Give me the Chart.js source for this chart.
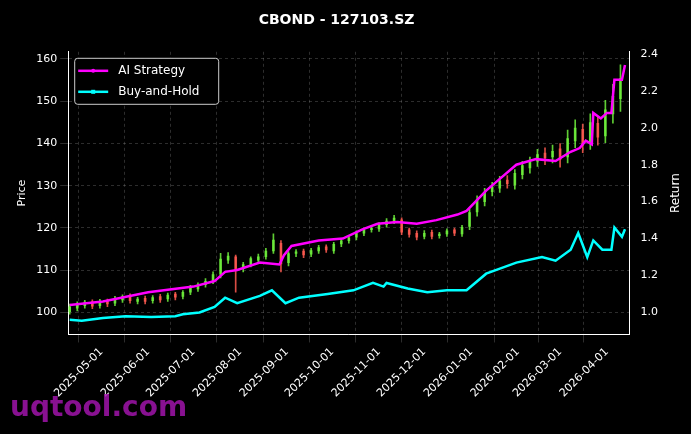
<!DOCTYPE html>
<html>
<head>
<meta charset="utf-8">
<script src="https://cdn.jsdelivr.net/npm/chart.js@4/dist/chart.umd.min.js"></script>
<style>
  body { margin: 0; background: #000; }
  #wrap { position: relative; width: 691px; height: 434px; }
  #mark { position: absolute; left: 10px; top: 390px; font: bold 28px "DejaVu Sans"; color: rgba(160, 20, 170, 0.85); pointer-events: none; }
</style>
</head>
<body>
<div id="wrap">
  <canvas id="myChart" width="691" height="434"></canvas>
  <div id="mark">uqtool.com</div>
</div>
<script>
// day offsets from 2025-04-10
const startDate = new Date(Date.UTC(2025, 3, 10));
const candleDays = [];
for (let d = 0; d <= 365; d += 5) candleDays.push(d);

const opens = [100.2,101.0,101.6,102.4,101.6,102.6,102.2,103.0,103.8,102.6,103.2,102.8,103.6,103.2,104.2,103.8,104.8,105.6,106.6,107.4,109.0,112.4,113.0,110.4,111.4,112.4,113.2,114.6,116.2,111.8,114.0,114.4,113.8,114.6,115.4,114.6,116.2,117.0,117.8,118.8,119.6,119.8,120.8,121.6,121.8,119.4,118.6,118.0,118.8,118.2,118.6,119.4,118.6,120.4,123.8,126.2,128.6,129.4,131.2,130.2,132.6,134.2,135.8,137.6,136.8,138.6,136.8,140.6,143.2,140.2,144.6,141.8,147.0,150.6];
const closes = [101.2,101.8,102.3,101.5,102.4,102.0,103.1,103.6,102.8,103.0,102.6,103.4,103.0,104.0,103.6,104.6,105.8,106.4,107.2,108.8,112.5,113.2,110.0,111.2,112.6,113.0,114.4,117.0,111.5,113.8,114.2,113.6,114.5,115.2,114.8,116.0,116.8,117.5,118.6,119.4,119.8,120.6,121.5,122.2,119.0,118.5,117.8,118.6,118.0,118.4,119.2,118.8,120.0,123.5,126.5,128.2,129.6,131.0,130.5,132.8,134.6,135.5,137.2,136.6,138.0,136.2,141.0,143.5,139.6,144.8,141.5,147.8,151.0,155.2];
const highs = [102.0,102.5,102.9,103.0,103.1,103.2,103.8,104.2,104.4,103.6,103.9,104.0,104.3,104.6,104.8,105.2,106.4,107.0,108.0,109.6,114.0,114.2,113.6,111.9,113.2,113.8,115.2,118.6,117.0,114.4,114.9,115.0,115.2,115.9,116.0,116.6,117.4,118.2,119.3,120.0,120.5,121.3,122.2,123.0,122.4,120.0,119.3,119.4,119.5,119.0,119.8,120.0,120.6,124.5,127.6,129.4,130.8,132.2,132.4,133.8,135.8,136.8,138.6,139.0,139.6,140.0,143.2,145.6,144.6,147.0,146.4,150.2,154.0,158.6];
const lows = [99.6,100.4,101.0,100.9,101.0,101.4,101.6,102.4,102.2,102.0,102.0,102.2,102.4,102.6,103.0,103.2,104.2,105.0,106.0,106.8,108.2,111.6,104.8,109.6,110.8,111.8,112.6,114.0,109.6,111.0,113.2,113.0,113.2,114.0,114.2,114.0,115.6,116.4,117.2,118.2,119.0,119.2,120.2,121.0,118.4,117.8,117.2,117.4,117.4,117.6,118.0,118.2,118.0,119.6,122.8,125.2,127.6,128.4,129.4,129.2,131.6,133.0,134.6,135.0,135.4,134.4,135.4,139.0,137.8,138.6,139.6,140.2,144.8,147.6];

const aiDays = [0,22,52,82,96,103,111,126,139,142,147,165,181,194,204,217,230,243,257,263,276,286,296,309,322,332,338,342,346,347,352,356,359,361,366,368];
const aiReturn = [1.04,1.06,1.11,1.14,1.17,1.22,1.23,1.27,1.26,1.31,1.36,1.39,1.40,1.45,1.48,1.49,1.48,1.50,1.53,1.55,1.66,1.73,1.80,1.83,1.82,1.87,1.89,1.93,1.91,2.08,2.05,2.08,2.08,2.26,2.26,2.34];
const bhDays = [0,8,22,37,54,70,75,86,96,103,111,126,134,143,152,171,188,201,208,210,224,237,250,263,276,286,296,313,322,332,337,343,347,353,359,361,366,368];
const bhReturn = [0.96,0.955,0.97,0.98,0.975,0.98,0.99,1.0,1.03,1.08,1.05,1.09,1.12,1.05,1.08,1.10,1.12,1.16,1.14,1.16,1.13,1.11,1.12,1.12,1.21,1.24,1.27,1.30,1.28,1.34,1.43,1.30,1.39,1.34,1.34,1.46,1.41,1.45];

const monthTicks = [21,52,82,113,144,174,205,235,266,297,325,356];

function dayLabel(d) {
    const t = new Date(startDate.getTime() + d * 86400000);
    return t.toISOString().slice(0, 10);
}

const green = 'rgba(110,240,60,0.85)';
const red = 'rgba(255,90,80,0.85)';
const candleColors = closes.map((c, i) => c >= opens[i] ? green : red);

const wicks = candleDays.map((d, i) => ({ x: d, y: [lows[i], highs[i]] }));
const bodies = candleDays.map((d, i) => ({ x: d, y: [Math.min(opens[i], closes[i]), Math.max(opens[i], closes[i]) + 0.15] }));

const gridStyle = { color: 'rgba(150,150,150,0.5)', lineWidth: 0.6 };
const borderStyle = { color: '#fff', dash: [3, 3] };
const font = { family: 'DejaVu Sans', size: 11 };

// legend inside plot + right-axis title reading upward
const extras = {
    id: 'extras',
    afterDraw(chart) {
        const ctx = chart.ctx, a = chart.chartArea;
        ctx.save();
        const x0 = a.left + 6, y0 = a.top + 6;
        ctx.fillStyle = '#000';
        ctx.strokeStyle = '#ccc';
        ctx.lineWidth = 1;
        ctx.beginPath();
        ctx.roundRect(x0 + 0.5, y0 + 0.5, 144, 46, 3);
        ctx.fill(); ctx.stroke();
        const items = [['AI Strategy', '#ff00ff'], ['Buy-and-Hold', '#00ffff']];
        ctx.font = '12px "DejaVu Sans"';
        ctx.textBaseline = 'middle';
        items.forEach((it, i) => {
            const y = y0 + 13 + i * 21;
            ctx.strokeStyle = it[1]; ctx.fillStyle = it[1]; ctx.lineWidth = 2.5;
            ctx.beginPath(); ctx.moveTo(x0 + 4, y); ctx.lineTo(x0 + 34, y); ctx.stroke();
            if (i === 0) { ctx.beginPath(); ctx.arc(x0 + 19, y, 2, 0, Math.PI * 2); ctx.fill(); }
            else ctx.fillRect(x0 + 17, y - 2, 4, 4);
            ctx.fillStyle = '#fff';
            ctx.fillText(it[0], x0 + 44, y);
        });
        ctx.translate(676, (a.top + a.bottom) / 2);
        ctx.rotate(-Math.PI / 2);
        ctx.textAlign = 'center';
        ctx.fillStyle = '#fff';
        ctx.fillText('Return', 0, 0);
        ctx.restore();
    }
};

new Chart(document.getElementById('myChart').getContext('2d'), {
    data: {
        datasets: [
            { type: 'bar', label: 'wick', data: wicks, backgroundColor: candleColors, barThickness: 1, grouped: false, yAxisID: 'y', order: 3 },
            { type: 'bar', label: 'body', data: bodies, backgroundColor: candleColors, barThickness: 2, grouped: false, yAxisID: 'y', order: 2 },
            { type: 'line', label: 'AI Strategy', data: aiDays.map((d, i) => ({ x: d, y: aiReturn[i] })), borderColor: '#ff00ff', borderWidth: 2.5, pointRadius: 0, yAxisID: 'y1', order: 1 },
            { type: 'line', label: 'Buy-and-Hold', data: bhDays.map((d, i) => ({ x: d, y: bhReturn[i] })), borderColor: '#00ffff', borderWidth: 2.5, pointRadius: 0, yAxisID: 'y1', order: 1 }
        ]
    },
    plugins: [extras],
    options: {
        responsive: false,
        animation: false,
        layout: { padding: { left: 12, right: 30, top: 4, bottom: 31 } },
        plugins: {
            title: { display: true, text: 'CBOND - 127103.SZ', color: '#fff', font: { family: 'DejaVu Sans', size: 14, weight: 'bold' }, padding: { top: 8, bottom: 23 } },
            legend: { display: false },
            tooltip: { enabled: false }
        },
        scales: {
            x: {
                type: 'linear', min: -1, max: 371, offset: false,
                afterBuildTicks: axis => { axis.ticks = monthTicks.map(v => ({ value: v })); },
                ticks: { color: '#fff', font: font, minRotation: 45, maxRotation: 45, autoSkip: false, callback: v => dayLabel(v) },
                grid: gridStyle, border: borderStyle
            },
            y: {
                position: 'left', min: 94.8, max: 161.7,
                afterBuildTicks: axis => { axis.ticks = [100,110,120,130,140,150,160].map(v => ({ value: v })); },
                ticks: { color: '#fff', font: font },
                title: { display: true, text: 'Price', color: '#fff', font: font },
                grid: gridStyle, border: borderStyle
            },
            y1: {
                position: 'right', min: 0.881, max: 2.411,
                afterBuildTicks: axis => { axis.ticks = [1.0,1.2,1.4,1.6,1.8,2.0,2.2,2.4].map(v => ({ value: v })); },
                ticks: { color: '#fff', font: font, callback: v => v.toFixed(1) },
                grid: { display: false }, border: { color: '#fff' }
            }
        }
    }
});
</script>
</body>
</html>
